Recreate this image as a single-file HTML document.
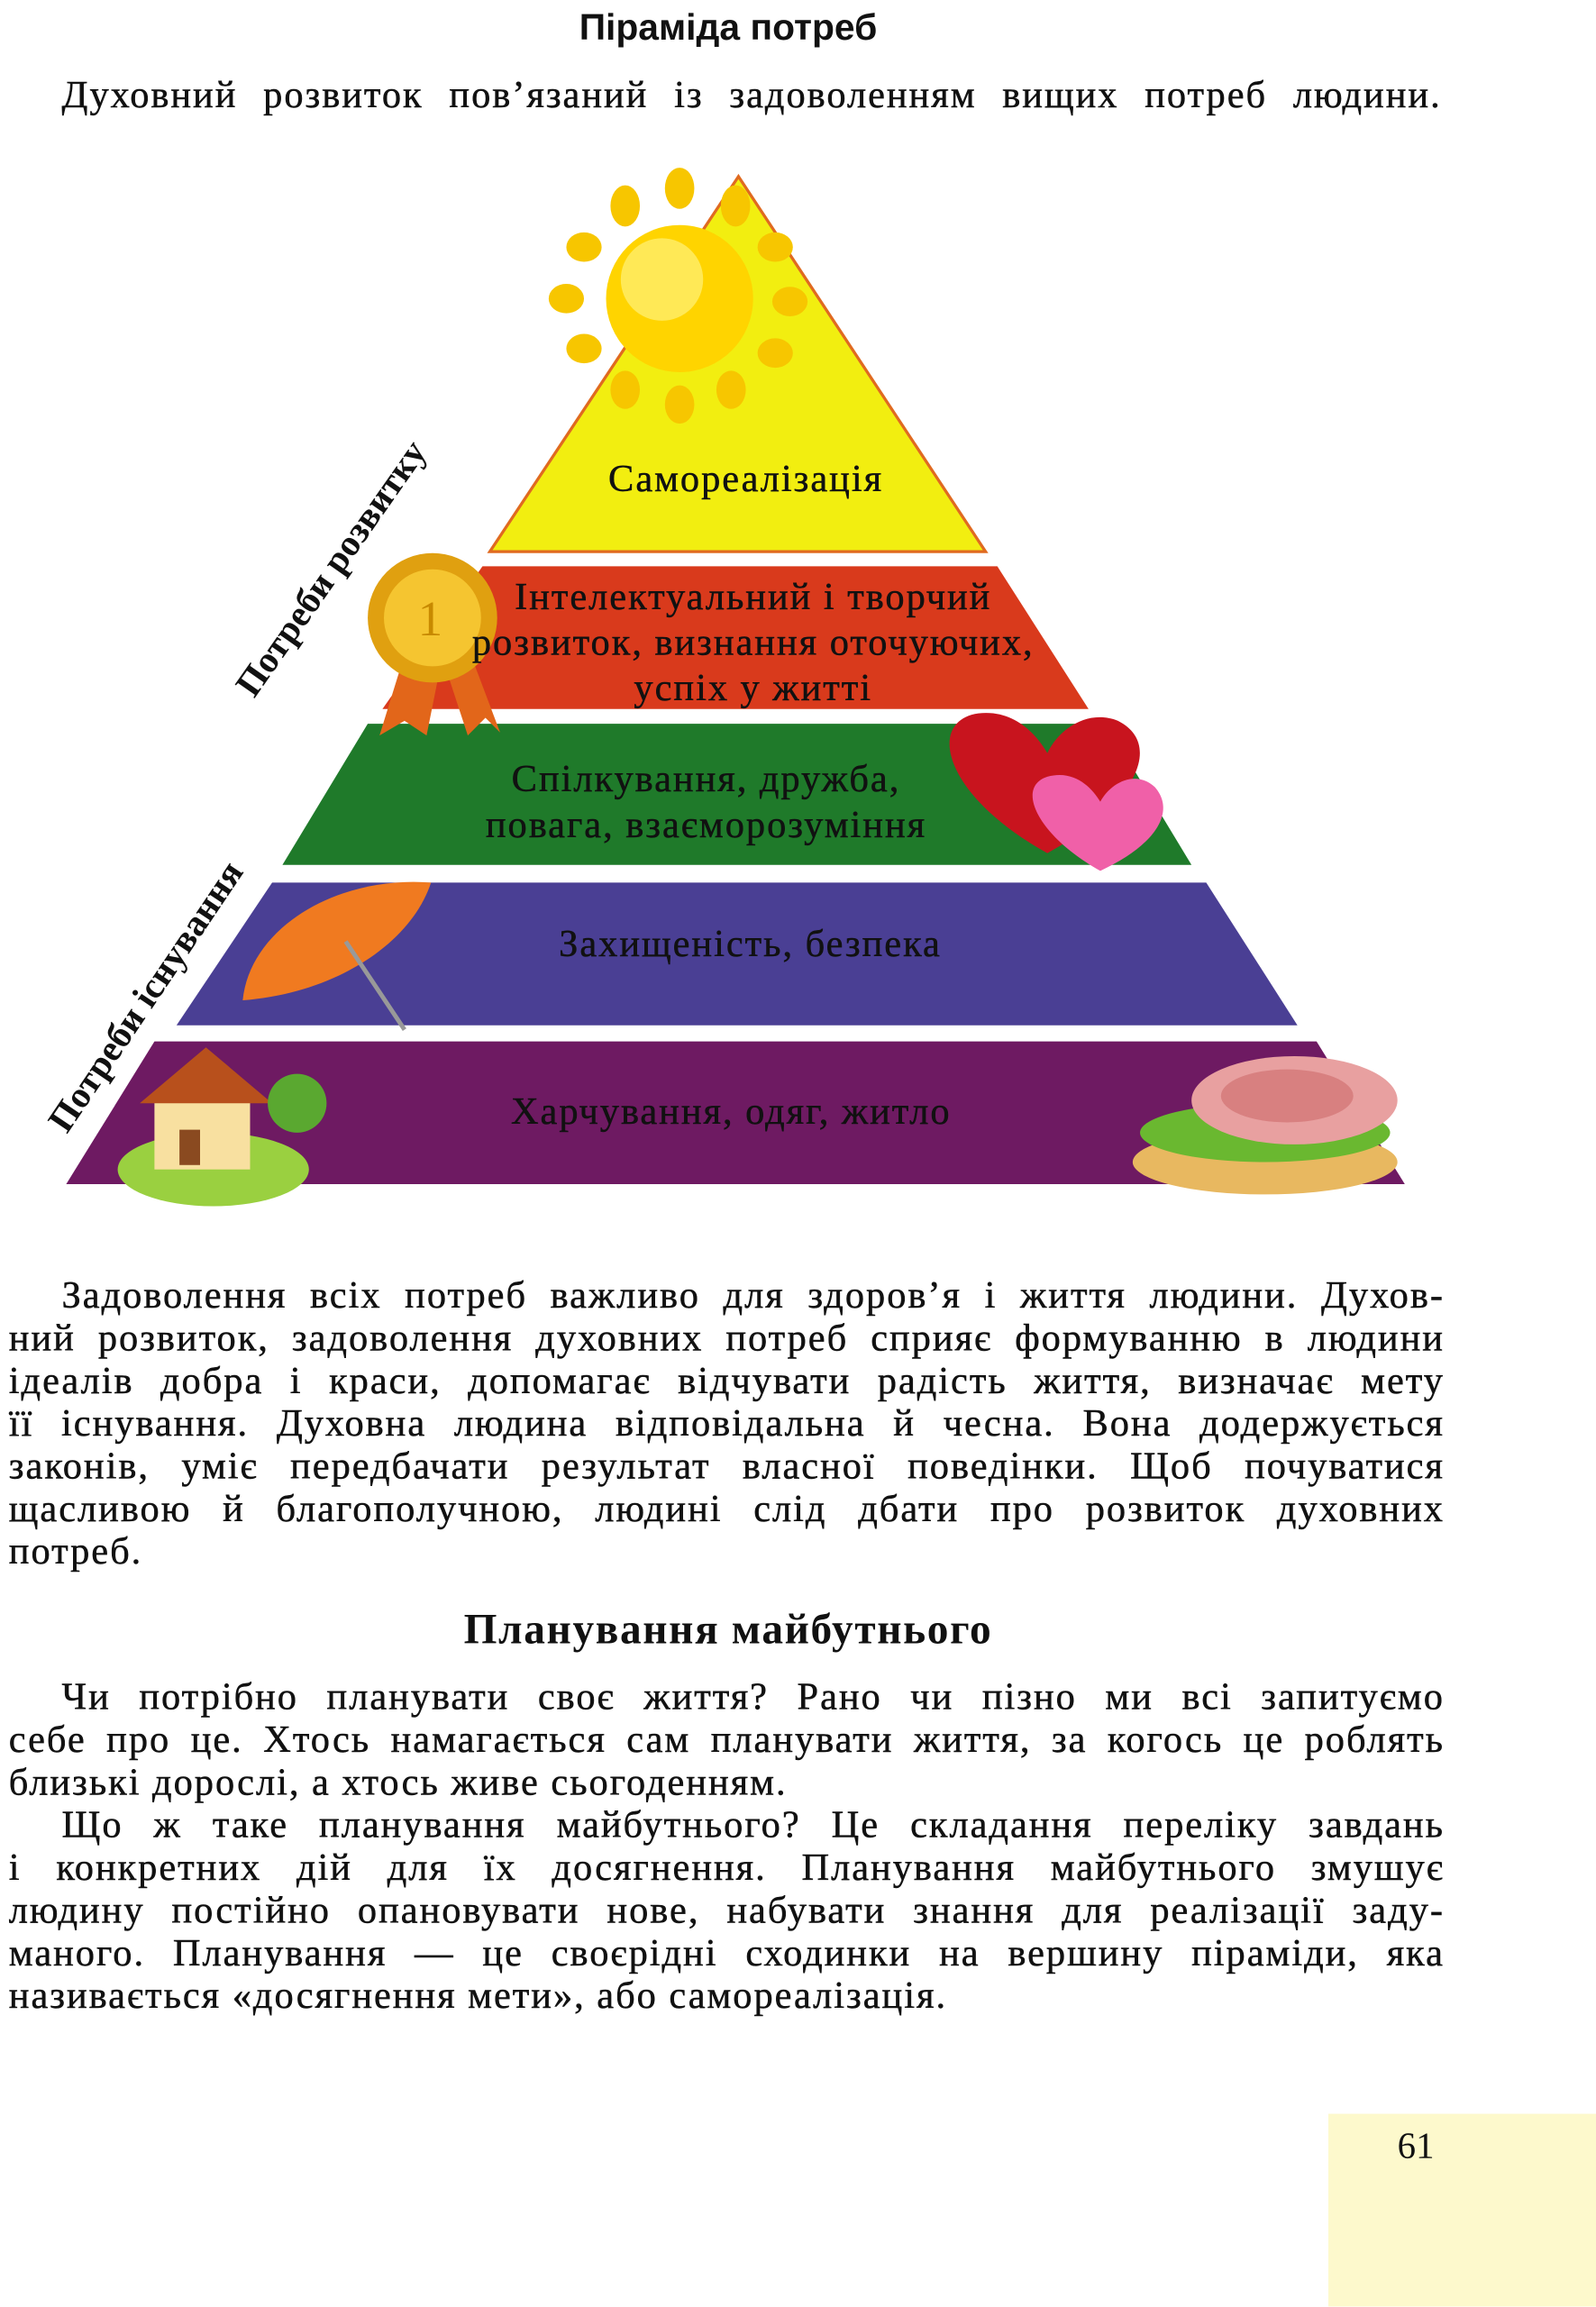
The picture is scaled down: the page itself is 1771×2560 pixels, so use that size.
<!DOCTYPE html>
<html><head><meta charset="utf-8">
<style>
html,body{margin:0;padding:0;background:#fff;}
body{width:1771px;height:2560px;overflow:hidden;position:relative;}
#w{position:absolute;left:0;top:0;width:1085px;height:1568px;transform:scale(1.6323);transform-origin:0 0;}
.t{position:absolute;font-family:"Liberation Serif",serif;color:#111;white-space:nowrap;}
.ln{position:absolute;left:6px;width:976px;font-family:"Liberation Serif",serif;font-size:26px;line-height:29px;color:#111;text-align:justify;text-align-last:justify;letter-spacing:1.2px;white-space:nowrap;-webkit-text-stroke:0.3px #111;}
.ln.nj{text-align-last:left;}
.pl{position:absolute;font-family:"Liberation Serif",serif;font-size:26px;color:#111;letter-spacing:1.2px;text-align:center;white-space:nowrap;-webkit-text-stroke:0.3px #111;}
</style></head><body><div id="w">
<div class="t" style="left:0;width:990px;top:5px;text-align:center;font-family:'Liberation Sans',sans-serif;font-weight:bold;font-size:25px;">Піраміда потреб</div>
<div class="ln" style="left:42px;width:938px;top:50px;">Духовний розвиток пов’язаний із задоволенням вищих потреб людини.</div>

<svg style="position:absolute;left:0;top:0" width="1085" height="840">
<polygon points="502,120 333,375 670,375" fill="#f2ee10" stroke="#e06a20" stroke-width="2"/>
<polygon points="328,385 678,385 740,482 260,482" fill="#d93a1c"/>
<polygon points="250,492 752,492 810,588 192,588" fill="#1f7a2a"/>
<polygon points="185,600 820,600 882,697 120,697" fill="#4a3f94"/>
<polygon points="105,708 895,708 955,805 45,805" fill="#6e1a62"/>
<g fill="#f7c600">
<circle cx="462" cy="203" r="50" fill="#ffd400"/>
<circle cx="450" cy="190" r="28" fill="#fff27a" opacity=".7"/>
<ellipse cx="425" cy="140" rx="10" ry="14"/><ellipse cx="462" cy="128" rx="10" ry="14"/><ellipse cx="500" cy="140" rx="10" ry="14"/>
<ellipse cx="527" cy="168" rx="12" ry="10"/><ellipse cx="537" cy="205" rx="12" ry="10"/><ellipse cx="527" cy="240" rx="12" ry="10"/>
<ellipse cx="497" cy="265" rx="10" ry="13"/><ellipse cx="462" cy="275" rx="10" ry="13"/><ellipse cx="425" cy="265" rx="10" ry="13"/>
<ellipse cx="397" cy="237" rx="12" ry="10"/><ellipse cx="385" cy="203" rx="12" ry="10"/><ellipse cx="397" cy="168" rx="12" ry="10"/>
</g>
<polygon points="275,445 258,500 275,490 290,500 300,450" fill="#e2661a"/>
<polygon points="300,445 318,500 330,488 340,498 320,445" fill="#e2661a"/>
<circle cx="294" cy="420" r="44" fill="#e0a010"/><circle cx="294" cy="420" r="33" fill="#f5c530"/>
<text x="284" y="432" font-family="Liberation Serif" font-size="34" fill="#c88a00">1</text>
<path d="M712,580 C640,540 630,490 665,485 C690,482 705,500 712,512 C720,495 740,482 760,490 C790,505 775,545 712,580Z" fill="#c8141e"/>
<path d="M748,592 C705,568 690,535 712,528 C730,523 742,535 748,545 C755,532 772,523 785,535 C800,552 785,575 748,592Z" fill="#f060a8"/>
<path d="M165,680 C170,630 230,595 293,600 C280,640 230,675 165,680Z" fill="#f07a20"/>
<line x1="235" y1="640" x2="275" y2="700" stroke="#999" stroke-width="3"/>
<ellipse cx="145" cy="795" rx="65" ry="25" fill="#9ad040"/>
<rect x="105" y="745" width="65" height="50" fill="#f8e0a0"/>
<polygon points="95,750 140,712 185,750" fill="#b8501c"/>
<rect x="122" y="768" width="14" height="24" fill="#8a4a20"/>
<circle cx="202" cy="750" r="20" fill="#5aa830"/>
<ellipse cx="860" cy="790" rx="90" ry="22" fill="#e8b860"/>
<ellipse cx="860" cy="770" rx="85" ry="20" fill="#6ab830"/>
<ellipse cx="880" cy="748" rx="70" ry="30" fill="#e8a0a0"/>
<ellipse cx="875" cy="745" rx="45" ry="18" fill="#d88080"/>
</svg>

<div class="pl" style="left:307px;width:400px;top:311px;">Самореалізація</div>
<div class="pl" style="left:262px;width:500px;top:390px;line-height:31px;">Інтелектуальний і творчий<br>розвиток, визнання оточуючих,<br>успіх у житті</div>
<div class="pl" style="left:225px;width:510px;top:514px;line-height:31px;">Спілкування, дружба,<br>повага, взаєморозуміння</div>
<div class="pl" style="left:260px;width:500px;top:627px;">Захищеність, безпека</div>
<div class="pl" style="left:247px;width:500px;top:741px;">Харчування, одяг, житло</div>

<div class="t" style="left:226px;top:387px;font-size:25px;font-weight:bold;transform:translate(-50%,-50%) rotate(-55deg);">Потреби розвитку</div>
<div class="t" style="left:100px;top:678px;font-size:25px;font-weight:bold;transform:translate(-50%,-50%) rotate(-56deg);">Потреби існування</div>

<div class="ln" style="left:42px;width:940px;top:866px;">Задоволення всіх потреб важливо для здоров’я і життя людини. Духов-</div>
<div class="ln" style="top:895px;">ний розвиток, задоволення духовних потреб сприяє формуванню в людини</div>
<div class="ln" style="top:924px;">ідеалів добра і краси, допомагає відчувати радість життя, визначає мету</div>
<div class="ln" style="top:953px;">її існування. Духовна людина відповідальна й чесна. Вона додержується</div>
<div class="ln" style="top:982px;">законів, уміє передбачати результат власної поведінки. Щоб почуватися</div>
<div class="ln" style="top:1011px;">щасливою й благополучною, людині слід дбати про розвиток духовних</div>
<div class="ln nj" style="top:1040px;">потреб.</div>

<div class="t" style="left:0;width:990px;top:1092px;text-align:center;font-weight:bold;font-size:29px;letter-spacing:1px;">Планування майбутнього</div>

<div class="ln" style="left:42px;width:940px;top:1139px;">Чи потрібно планувати своє життя? Рано чи пізно ми всі запитуємо</div>
<div class="ln" style="top:1168px;">себе про це. Хтось намагається сам планувати життя, за когось це роблять</div>
<div class="ln nj" style="top:1197px;">близькі дорослі, а хтось живе сьогоденням.</div>
<div class="ln" style="left:42px;width:940px;top:1226px;">Що ж таке планування майбутнього? Це складання переліку завдань</div>
<div class="ln" style="top:1255px;">і конкретних дій для їх досягнення. Планування майбутнього змушує</div>
<div class="ln" style="top:1284px;">людину постійно опановувати нове, набувати знання для реалізації заду-</div>
<div class="ln" style="top:1313px;">маного. Планування — це своєрідні сходинки на вершину піраміди, яка</div>
<div class="ln nj" style="top:1342px;">називається «досягнення мети», або самореалізація.</div>

<div style="position:absolute;left:903px;top:1437px;width:182px;height:131px;background:#fdf9cc;"></div>
<div class="t" style="left:950px;top:1446px;font-size:25px;">61</div>
</div></body></html>
